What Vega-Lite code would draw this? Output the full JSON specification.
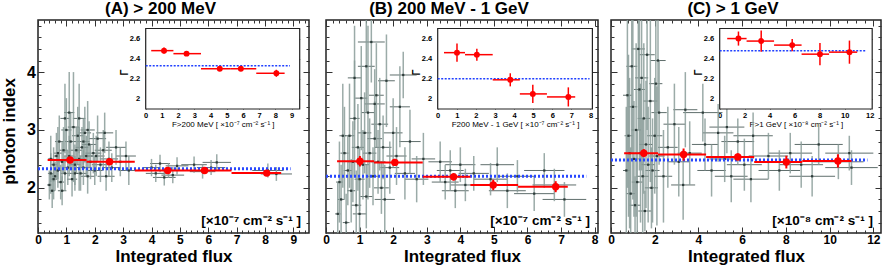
{
"$schema":"https://vega.github.io/schema/vega-lite/v6.json",
"autosize":{"type":"none"},
"padding":{"left":38,"top":20,"right":845,"bottom":251},
"config":{
 "view":{"stroke":"#222","strokeWidth":1.5},
 "font":"Liberation Sans",
 "axis":{"grid":false,"domain":false,"labelFont":"Liberation Sans","titleFont":"Liberation Sans","labelFontWeight":"bold","titleFontWeight":"bold","labelColor":"#000","titleColor":"#000","tickColor":"#333","tickWidth":1,"zindex":1,"labelOverlap":false,"labelFlush":false},
 "title":{"font":"Liberation Sans","fontSize":17,"fontWeight":"bold","color":"#000","anchor":"middle","dx":-13,"offset":2,"baseline":"alphabetic"}
},
"datasets":{
 "gA":[
  {"x":0.40,"xe":0.08,"y":2.05,"ye":0.25},{"x":0.45,"xe":0.10,"y":2.25,"ye":0.35},{"x":0.50,"xe":0.10,"y":1.95,"ye":0.30},{"x":0.55,"xe":0.12,"y":2.40,"ye":0.30},{"x":0.60,"xe":0.10,"y":2.20,"ye":0.25},{"x":0.65,"xe":0.12,"y":2.55,"ye":0.40},{"x":0.70,"xe":0.12,"y":2.30,"ye":0.30},{"x":0.75,"xe":0.15,"y":2.80,"ye":0.45},{"x":0.80,"xe":0.12,"y":2.10,"ye":0.30},{"x":0.85,"xe":0.15,"y":2.45,"ye":0.35},{"x":0.90,"xe":0.15,"y":2.65,"ye":0.40},{"x":0.95,"xe":0.15,"y":2.25,"ye":0.30},{"x":1.00,"xe":0.18,"y":3.00,"ye":0.55},{"x":1.05,"xe":0.15,"y":2.35,"ye":0.30},{"x":1.10,"xe":0.18,"y":2.55,"ye":0.35},{"x":1.15,"xe":0.20,"y":2.80,"ye":0.50},{"x":1.20,"xe":0.18,"y":2.15,"ye":0.30},{"x":1.25,"xe":0.20,"y":3.05,"ye":0.95},{"x":1.30,"xe":0.20,"y":2.40,"ye":0.35},{"x":1.35,"xe":0.20,"y":2.65,"ye":0.40},{"x":1.40,"xe":0.20,"y":2.90,"ye":0.50},{"x":1.45,"xe":0.22,"y":2.50,"ye":0.55},{"x":1.50,"xe":0.22,"y":2.25,"ye":0.30},{"x":1.55,"xe":0.22,"y":2.70,"ye":0.35},{"x":1.60,"xe":0.25,"y":2.35,"ye":0.30},{"x":1.65,"xe":0.22,"y":2.95,"ye":0.45},{"x":1.70,"xe":0.25,"y":2.55,"ye":0.35},{"x":1.75,"xe":0.25,"y":2.20,"ye":0.30},{"x":1.80,"xe":0.25,"y":2.75,"ye":0.40},{"x":1.85,"xe":0.25,"y":2.45,"ye":0.30},{"x":1.95,"xe":0.28,"y":2.60,"ye":0.35},{"x":2.00,"xe":0.28,"y":2.30,"ye":0.25},{"x":2.10,"xe":0.30,"y":2.85,"ye":0.40},{"x":2.20,"xe":0.30,"y":2.40,"ye":0.30},{"x":2.30,"xe":0.30,"y":2.65,"ye":0.35},{"x":2.40,"xe":0.30,"y":2.20,"ye":0.25},{"x":2.50,"xe":0.32,"y":2.50,"ye":0.30},{"x":2.60,"xe":0.32,"y":2.35,"ye":0.25},{"x":2.75,"xe":0.35,"y":2.70,"ye":0.30},{"x":2.90,"xe":0.35,"y":2.45,"ye":0.25},{"x":3.10,"xe":0.35,"y":2.55,"ye":0.25},{"x":3.20,"xe":0.35,"y":2.30,"ye":0.25},{"x":4.00,"xe":0.30,"y":2.35,"ye":0.15},{"x":4.15,"xe":0.35,"y":2.25,"ye":0.15},{"x":4.30,"xe":0.35,"y":2.42,"ye":0.15},{"x":4.45,"xe":0.40,"y":2.18,"ye":0.14},{"x":4.60,"xe":0.40,"y":2.30,"ye":0.13},{"x":4.75,"xe":0.40,"y":2.22,"ye":0.14},{"x":4.90,"xe":0.40,"y":2.38,"ye":0.15},{"x":5.50,"xe":0.45,"y":2.40,"ye":0.14},{"x":5.80,"xe":0.45,"y":2.28,"ye":0.12},{"x":6.10,"xe":0.50,"y":2.35,"ye":0.13},{"x":6.30,"xe":0.50,"y":2.44,"ye":0.14},{"x":8.10,"xe":0.55,"y":2.30,"ye":0.12},{"x":8.40,"xe":0.55,"y":2.24,"ye":0.12},
  {"x":0.55,"xe":0.12,"y":2.15,"ye":0.35},{"x":0.70,"xe":0.14,"y":2.60,"ye":0.45},{"x":0.95,"xe":0.16,"y":3.20,"ye":0.60},{"x":1.10,"xe":0.18,"y":3.30,"ye":0.70},{"x":1.30,"xe":0.20,"y":2.25,"ye":0.30},{"x":1.45,"xe":0.22,"y":3.20,"ye":0.60},{"x":1.60,"xe":0.22,"y":2.80,"ye":0.40},{"x":1.75,"xe":0.25,"y":3.00,"ye":0.50},{"x":2.05,"xe":0.30,"y":2.55,"ye":0.35},{"x":2.35,"xe":0.30,"y":2.95,"ye":0.35},{"x":0.45,"xe":0.10,"y":2.50,"ye":0.40},{"x":0.85,"xe":0.15,"y":1.95,"ye":0.25}
 ],
 "gB":[
  {"x":0.35,"xe":0.08,"y":1.55,"ye":0.55},{"x":0.40,"xe":0.10,"y":2.10,"ye":0.70},{"x":0.45,"xe":0.10,"y":1.80,"ye":0.60},{"x":0.55,"xe":0.12,"y":2.60,"ye":0.80},{"x":0.60,"xe":0.10,"y":1.40,"ye":0.50},{"x":0.65,"xe":0.12,"y":2.30,"ye":0.60},{"x":0.70,"xe":0.15,"y":2.90,"ye":0.90},{"x":0.75,"xe":0.12,"y":1.95,"ye":0.55},{"x":0.80,"xe":0.15,"y":2.45,"ye":0.70},{"x":0.85,"xe":0.15,"y":3.20,"ye":1.00},{"x":0.90,"xe":0.15,"y":1.70,"ye":0.60},{"x":0.95,"xe":0.18,"y":2.70,"ye":0.75},{"x":1.00,"xe":0.15,"y":2.15,"ye":0.55},{"x":1.05,"xe":0.18,"y":3.55,"ye":0.90},{"x":1.10,"xe":0.18,"y":2.40,"ye":0.60},{"x":1.15,"xe":0.20,"y":2.95,"ye":0.70},{"x":1.20,"xe":0.18,"y":1.85,"ye":0.55},{"x":1.25,"xe":0.20,"y":3.30,"ye":1.50},{"x":1.30,"xe":0.20,"y":2.60,"ye":0.60},{"x":1.35,"xe":0.40,"y":4.52,"ye":0.70},{"x":1.40,"xe":0.20,"y":2.20,"ye":0.50},{"x":1.45,"xe":0.22,"y":2.85,"ye":0.65},{"x":1.50,"xe":0.22,"y":3.60,"ye":0.90},{"x":1.55,"xe":0.22,"y":2.45,"ye":0.55},{"x":1.60,"xe":0.25,"y":3.10,"ye":0.80},{"x":1.65,"xe":0.22,"y":2.00,"ye":0.45},{"x":1.70,"xe":0.25,"y":2.70,"ye":0.55},{"x":1.80,"xe":0.25,"y":3.85,"ye":0.80},{"x":1.90,"xe":0.28,"y":2.35,"ye":0.45},{"x":2.00,"xe":0.28,"y":2.95,"ye":0.60},{"x":2.10,"xe":0.30,"y":2.55,"ye":0.50},{"x":2.20,"xe":0.30,"y":3.40,"ye":0.70},{"x":2.35,"xe":0.30,"y":2.25,"ye":0.45},{"x":2.50,"xe":0.32,"y":2.80,"ye":0.55},{"x":2.70,"xe":0.35,"y":2.15,"ye":0.40},{"x":2.90,"xe":0.35,"y":2.50,"ye":0.45},{"x":3.40,"xe":0.35,"y":2.45,"ye":0.35},{"x":3.55,"xe":0.40,"y":2.10,"ye":0.30},{"x":3.70,"xe":0.40,"y":2.30,"ye":0.35},{"x":3.85,"xe":0.40,"y":1.95,"ye":0.30},{"x":4.00,"xe":0.45,"y":2.40,"ye":0.30},{"x":4.15,"xe":0.45,"y":2.05,"ye":0.28},{"x":4.40,"xe":0.45,"y":2.25,"ye":0.30},{"x":4.90,"xe":0.50,"y":2.15,"ye":0.28},{"x":5.10,"xe":0.50,"y":2.40,"ye":0.30},{"x":5.40,"xe":0.55,"y":1.95,"ye":0.30},{"x":5.70,"xe":0.55,"y":2.20,"ye":0.28},{"x":6.20,"xe":0.60,"y":1.90,"ye":0.30},{"x":6.50,"xe":0.60,"y":2.30,"ye":0.30},{"x":6.80,"xe":0.65,"y":2.05,"ye":0.28},{"x":7.10,"xe":0.65,"y":1.80,"ye":0.30},
  {"x":0.85,"xe":0.20,"y":3.90,"ye":0.90},{"x":1.20,"xe":0.25,"y":4.10,"ye":0.80},{"x":1.45,"xe":0.30,"y":3.45,"ye":0.60},{"x":2.30,"xe":0.40,"y":3.95,"ye":0.40},{"x":1.00,"xe":0.20,"y":1.55,"ye":0.60},{"x":0.50,"xe":0.10,"y":2.90,"ye":0.90},{"x":1.75,"xe":0.30,"y":1.80,"ye":0.60}
 ],
 "gC":[
  {"x":0.70,"xe":0.15,"y":2.30,"ye":1.10},{"x":0.80,"xe":0.18,"y":2.90,"ye":1.40},{"x":0.90,"xe":0.20,"y":1.90,"ye":0.80},{"x":1.00,"xe":0.20,"y":3.40,"ye":1.60},{"x":1.05,"xe":0.22,"y":2.50,"ye":1.00},{"x":1.15,"xe":0.22,"y":3.00,"ye":1.50},{"x":1.20,"xe":0.25,"y":2.10,"ye":0.90},{"x":1.30,"xe":0.25,"y":3.70,"ye":1.40},{"x":1.35,"xe":0.25,"y":2.60,"ye":1.20},{"x":1.45,"xe":0.28,"y":2.20,"ye":1.00},{"x":1.50,"xe":0.28,"y":3.20,"ye":1.30},{"x":1.60,"xe":0.30,"y":2.75,"ye":1.10},{"x":1.70,"xe":0.30,"y":2.40,"ye":1.00},{"x":1.80,"xe":0.32,"y":3.50,"ye":1.40},{"x":1.90,"xe":0.32,"y":2.30,"ye":0.90},{"x":2.00,"xe":0.35,"y":2.90,"ye":1.00},{"x":2.10,"xe":0.35,"y":2.55,"ye":1.20},{"x":2.20,"xe":0.35,"y":3.30,"ye":0.90},{"x":2.40,"xe":0.40,"y":2.20,"ye":0.80},{"x":2.60,"xe":0.45,"y":2.70,"ye":0.70},{"x":2.90,"xe":0.50,"y":3.10,"ye":0.70},{"x":3.10,"xe":0.50,"y":2.45,"ye":0.60},{"x":3.30,"xe":0.55,"y":2.05,"ye":0.60},{"x":3.40,"xe":0.55,"y":3.35,"ye":0.65},{"x":3.60,"xe":0.55,"y":2.60,"ye":0.55},{"x":4.30,"xe":0.60,"y":2.75,"ye":0.45},{"x":4.60,"xe":0.65,"y":2.30,"ye":0.45},{"x":4.90,"xe":0.70,"y":2.95,"ye":0.50},{"x":5.20,"xe":0.70,"y":2.50,"ye":0.40},{"x":5.50,"xe":0.75,"y":2.20,"ye":0.45},{"x":5.80,"xe":0.75,"y":2.80,"ye":0.40},{"x":6.10,"xe":0.80,"y":2.40,"ye":0.45},{"x":6.40,"xe":0.80,"y":2.15,"ye":0.40},{"x":7.20,"xe":0.90,"y":2.55,"ye":0.40},{"x":7.70,"xe":0.95,"y":2.30,"ye":0.35},{"x":8.20,"xe":1.00,"y":2.60,"ye":0.35},{"x":8.70,"xe":1.00,"y":2.40,"ye":0.40},{"x":9.20,"xe":1.05,"y":2.20,"ye":0.35},{"x":10.40,"xe":1.15,"y":2.45,"ye":0.30},{"x":11.00,"xe":1.20,"y":2.35,"ye":0.30},
  {"x":0.75,"xe":0.20,"y":3.60,"ye":1.60},{"x":0.95,"xe":0.25,"y":4.10,"ye":1.50},{"x":1.25,"xe":0.30,"y":4.40,"ye":1.40},{"x":1.40,"xe":0.30,"y":3.90,"ye":1.60},{"x":1.65,"xe":0.35,"y":4.30,"ye":1.30},{"x":1.85,"xe":0.30,"y":2.00,"ye":0.70},{"x":2.05,"xe":0.30,"y":3.80,"ye":1.20},{"x":0.85,"xe":0.20,"y":2.60,"ye":1.30},{"x":1.10,"xe":0.25,"y":1.70,"ye":0.50},{"x":1.55,"xe":0.30,"y":1.60,"ye":0.35},{"x":2.15,"xe":0.35,"y":4.20,"ye":0.90},{"x":4.20,"xe":0.90,"y":3.30,"ye":0.50},{"x":5.30,"xe":0.80,"y":3.05,"ye":0.45},{"x":6.50,"xe":0.90,"y":2.90,"ye":0.40},{"x":9.50,"xe":1.10,"y":2.75,"ye":0.35},{"x":10.90,"xe":1.10,"y":2.60,"ye":0.30}
 ],
 "rA":[
  {"x":1.13,"xlo":0.34,"xhi":1.71,"y":2.48,"ylo":2.45,"yhi":2.51},{"x":2.52,"xlo":1.71,"xhi":3.41,"y":2.45,"ylo":2.43,"yhi":2.47},{"x":4.57,"xlo":3.41,"xhi":5.25,"y":2.30,"ylo":2.28,"yhi":2.32},{"x":5.87,"xlo":5.25,"xhi":6.82,"y":2.30,"ylo":2.28,"yhi":2.32},{"x":8.06,"xlo":6.82,"xhi":8.57,"y":2.255,"ylo":2.22,"yhi":2.29}
 ],
 "rB":[
  {"x":1.01,"xlo":0.33,"xhi":1.43,"y":2.46,"ylo":2.37,"yhi":2.55},{"x":2.05,"xlo":1.43,"xhi":2.88,"y":2.44,"ylo":2.38,"yhi":2.50},{"x":3.8,"xlo":2.88,"xhi":4.3,"y":2.19,"ylo":2.125,"yhi":2.255},{"x":4.98,"xlo":4.3,"xhi":5.72,"y":2.05,"ylo":1.96,"yhi":2.14},{"x":6.84,"xlo":5.72,"xhi":7.2,"y":2.02,"ylo":1.925,"yhi":2.115}
 ],
 "rC":[
  {"x":1.5,"xlo":0.6,"xhi":2.15,"y":2.60,"ylo":2.53,"yhi":2.67},{"x":3.32,"xlo":2.15,"xhi":4.35,"y":2.575,"ylo":2.47,"yhi":2.68},{"x":5.8,"xlo":4.35,"xhi":6.55,"y":2.535,"ylo":2.475,"yhi":2.595},{"x":8.02,"xlo":6.55,"xhi":8.75,"y":2.445,"ylo":2.335,"yhi":2.555},{"x":10.38,"xlo":8.75,"xhi":11.0,"y":2.465,"ylo":2.35,"yhi":2.58}
 ]
},
"bounds":"flush",
"spacing":17,
"hconcat":[
{
 "width":271,"height":213,
 "title":{"text":"(A) > 200 MeV"},
 "resolve":{"scale":{"x":"independent","y":"independent"}},
 "layer":[
  {
   "resolve":{"axis":{"x":"independent","y":"independent"}},
   "layer":[
    {"data":{"name":"gA"},"mark":{"type":"errorbar","color":"#435552","thickness":1,"opacity":0.85,"clip":true},
     "encoding":{"x":{"field":"x","type":"quantitative","scale":{"domain":[0,9.55],"nice":false,"zero":false},"axis":{"orient":"bottom","values":[0,1,2,3,4,5,6,7,8,9],"ticks":false,"labelFontSize":12,"labelPadding":1.5,"title":"Integrated flux","titleFontSize":17,"titleY":28,"titleBaseline":"alphabetic"}},
      "xError":{"field":"xe"},
      "y":{"field":"y","type":"quantitative","scale":{"domain":[1.22,4.9],"nice":false,"zero":false},"axis":{"orient":"left","values":[2,3,4],"ticks":false,"labelFontSize":16,"labelPadding":2.5,"title":"photon index","titleFontSize":17,"titleX":-23.5,"titleY":111,"titleBaseline":"alphabetic"}}}},
    {"data":{"name":"gA"},"mark":{"type":"errorbar","color":"#8a9c99","thickness":1.5,"opacity":0.85,"clip":true},
     "encoding":{"x":{"field":"x","type":"quantitative","scale":{"domain":[0,9.55],"nice":false,"zero":false},"axis":{"orient":"bottom","values":[0,1,2,3,4,5,6,7,8,9],"labels":false,"tickSize":-6,"title":null}},
      "y":{"field":"y","type":"quantitative","scale":{"domain":[1.22,4.9],"nice":false,"zero":false},"axis":{"orient":"left","values":[2,3,4],"labels":false,"tickSize":-6,"title":null}},
      "yError":{"field":"ye"}}},
    {"data":{"name":"gA"},"mark":{"type":"square","size":5,"color":"#2d3b39","opacity":1,"clip":true},
     "encoding":{"x":{"field":"x","type":"quantitative","scale":{"domain":[0,9.55],"nice":false,"zero":false},"axis":{"orient":"bottom","tickCount":48,"labels":false,"tickSize":-3,"title":null}},
      "y":{"field":"y","type":"quantitative","scale":{"domain":[1.22,4.9],"nice":false,"zero":false},"axis":{"orient":"left","tickCount":18,"labels":false,"tickSize":-3,"title":null}}}},
    {"data":{"values":[{"x":0,"x2":8.9,"y":2.33}]},"mark":{"type":"rule","color":"#2848ff","strokeWidth":3,"strokeDash":[2,2],"clip":true},
     "encoding":{"x":{"field":"x","type":"quantitative","scale":{"domain":[0,9.55],"nice":false,"zero":false},"axis":{"orient":"top","values":[0,1,2,3,4,5,6,7,8,9],"labels":false,"tickSize":-6,"title":null}},"x2":{"field":"x2"},
      "y":{"field":"y","type":"quantitative","scale":{"domain":[1.22,4.9],"nice":false,"zero":false},"axis":{"orient":"right","values":[2,3,4],"labels":false,"tickSize":-6,"title":null}}}},
    {"data":{"name":"rA"},"mark":{"type":"rule","color":"#ff0000","strokeWidth":2,"clip":true},
     "encoding":{"x":{"field":"xlo","type":"quantitative","scale":{"domain":[0,9.55],"nice":false,"zero":false},"axis":{"orient":"top","tickCount":48,"labels":false,"tickSize":-3,"title":null}},"x2":{"field":"xhi"},
      "y":{"field":"y","type":"quantitative","scale":{"domain":[1.22,4.9],"nice":false,"zero":false},"axis":{"orient":"right","tickCount":18,"labels":false,"tickSize":-3,"title":null}}}},
    {"data":{"name":"rA"},"mark":{"type":"rule","color":"#ff0000","strokeWidth":2,"clip":true},
     "encoding":{"x":{"field":"x","type":"quantitative","scale":{"domain":[0,9.55],"nice":false,"zero":false},"axis":null},
      "y":{"field":"ylo","type":"quantitative","scale":{"domain":[1.22,4.9],"nice":false,"zero":false},"axis":null},"y2":{"field":"yhi"}}},
    {"data":{"name":"rA"},"mark":{"type":"circle","size":55,"color":"#ff0000","opacity":1},
     "encoding":{"x":{"field":"x","type":"quantitative","scale":{"domain":[0,9.55],"nice":false,"zero":false},"axis":null},
      "y":{"field":"y","type":"quantitative","scale":{"domain":[1.22,4.9],"nice":false,"zero":false},"axis":null}}},
    {"data":{"values":[{"t":"[×10⁻⁷ cm⁻² s⁻¹ ]"}]},"mark":{"type":"text","align":"right","baseline":"alphabetic","fontSize":13.5,"fontWeight":"bold","font":"Liberation Sans","color":"#000"},
     "encoding":{"text":{"field":"t"},"x":{"datum":9.27,"type":"quantitative","scale":{"domain":[0,9.55],"nice":false,"zero":false},"axis":null},
      "y":{"datum":1.36,"type":"quantitative","scale":{"domain":[1.22,4.9],"nice":false,"zero":false},"axis":null}}}
   ]
  },
  {
   "resolve":{"axis":{"x":"independent","y":"independent"}},
   "layer":[
    {"data":{"values":[{}]},"mark":{"type":"rect","fill":"#ffffff","stroke":"#222","strokeWidth":1.2},
     "encoding":{"x":{"datum":0,"type":"quantitative","scale":{"domain":[0,9.5],"range":[107.7,261.7],"nice":false,"zero":false},"axis":null},"x2":{"datum":9.5},
      "y":{"datum":1.9,"type":"quantitative","scale":{"domain":[1.9,2.7],"range":[89,8.5],"nice":false,"zero":false},"axis":null},"y2":{"datum":2.7}}},
    {"data":{"values":[{"x":0,"x2":8.9,"y":2.33}]},"mark":{"type":"rule","color":"#2040ff","strokeWidth":1.5,"strokeDash":[2,1.5]},
     "encoding":{"x":{"field":"x","type":"quantitative","scale":{"domain":[0,9.5],"range":[107.7,261.7],"nice":false,"zero":false},"axis":{"orient":"bottom","offset":-124,"values":[0,1,2,3,4,5,6,7,8,9],"ticks":false,"labelFontSize":7.5,"labelPadding":2,"title":"F>200 MeV [ ×10⁻⁷ cm⁻² s⁻¹ ]","titleFontSize":8,"titleFontWeight":"normal","titleY":17,"titleBaseline":"alphabetic"}},"x2":{"field":"x2"},
      "y":{"field":"y","type":"quantitative","scale":{"domain":[1.9,2.7],"range":[89,8.5],"nice":false,"zero":false},"axis":{"orient":"left","offset":-107.7,"values":[2,2.2,2.4,2.6],"format":"~g","ticks":false,"labelFontSize":7.5,"labelPadding":6,"title":"Γ","titleFontSize":10,"titleX":-21.7,"titleY":52,"titleBaseline":"middle"}}}},
    {"data":{"name":"rA"},"mark":{"type":"rule","color":"#ff0000","strokeWidth":1.5},
     "encoding":{"x":{"field":"xlo","type":"quantitative","scale":{"domain":[0,9.5],"range":[107.7,261.7],"nice":false,"zero":false},"axis":{"orient":"bottom","offset":-124,"values":[0,1,2,3,4,5,6,7,8,9],"labels":false,"tickSize":-3,"title":null}},"x2":{"field":"xhi"},
      "y":{"field":"y","type":"quantitative","scale":{"domain":[1.9,2.7],"range":[89,8.5],"nice":false,"zero":false},"axis":{"orient":"left","offset":-107.7,"values":[2,2.2,2.4,2.6],"labels":false,"tickSize":-3,"title":null}}}},
    {"data":{"name":"rA"},"mark":{"type":"rule","color":"#ff0000","strokeWidth":1.5},
     "encoding":{"x":{"field":"x","type":"quantitative","scale":{"domain":[0,9.5],"range":[107.7,261.7],"nice":false,"zero":false},"axis":{"orient":"top","offset":-8.5,"values":[0,1,2,3,4,5,6,7,8,9],"labels":false,"tickSize":-3,"title":null}},
      "y":{"field":"ylo","type":"quantitative","scale":{"domain":[1.9,2.7],"range":[89,8.5],"nice":false,"zero":false},"axis":{"orient":"right","offset":-9.3,"values":[2,2.2,2.4,2.6],"labels":false,"tickSize":-3,"title":null}},"y2":{"field":"yhi"}}},
    {"data":{"name":"rA"},"mark":{"type":"circle","size":35,"color":"#ff0000","opacity":1},
     "encoding":{"x":{"field":"x","type":"quantitative","scale":{"domain":[0,9.5],"range":[107.7,261.7],"nice":false,"zero":false},"axis":null},
      "y":{"field":"y","type":"quantitative","scale":{"domain":[1.9,2.7],"range":[89,8.5],"nice":false,"zero":false},"axis":null}}}
   ]
  }
 ]
},
{
 "bounds":"flush",
 "spacing":13,
 "hconcat":[
 {
  "width":272,"height":213,
  "title":{"text":"(B) 200 MeV - 1 GeV"},
  "resolve":{"scale":{"x":"independent","y":"independent"}},
  "layer":[
   {
    "resolve":{"axis":{"x":"independent","y":"independent"}},
    "layer":[
     {"data":{"name":"gB"},"mark":{"type":"errorbar","color":"#435552","thickness":1,"opacity":0.85,"clip":true},
      "encoding":{"x":{"field":"x","type":"quantitative","scale":{"domain":[0,8.1],"nice":false,"zero":false},"axis":{"orient":"bottom","values":[0,1,2,3,4,5,6,7,8],"ticks":false,"labelFontSize":12,"labelPadding":1.5,"title":"Integrated flux","titleFontSize":17,"titleY":28,"titleBaseline":"alphabetic"}},
       "xError":{"field":"xe"},
       "y":{"field":"y","type":"quantitative","scale":{"domain":[1.22,4.9],"nice":false,"zero":false},"axis":null}}},
     {"data":{"name":"gB"},"mark":{"type":"errorbar","color":"#8a9c99","thickness":1.5,"opacity":0.85,"clip":true},
      "encoding":{"x":{"field":"x","type":"quantitative","scale":{"domain":[0,8.1],"nice":false,"zero":false},"axis":{"orient":"bottom","values":[0,1,2,3,4,5,6,7,8],"labels":false,"tickSize":-6,"title":null}},
       "y":{"field":"y","type":"quantitative","scale":{"domain":[1.22,4.9],"nice":false,"zero":false},"axis":{"orient":"left","values":[2,3,4],"labels":false,"tickSize":-6,"title":null}},
       "yError":{"field":"ye"}}},
     {"data":{"name":"gB"},"mark":{"type":"square","size":5,"color":"#2d3b39","opacity":1,"clip":true},
      "encoding":{"x":{"field":"x","type":"quantitative","scale":{"domain":[0,8.1],"nice":false,"zero":false},"axis":{"orient":"bottom","tickCount":40,"labels":false,"tickSize":-3,"title":null}},
       "y":{"field":"y","type":"quantitative","scale":{"domain":[1.22,4.9],"nice":false,"zero":false},"axis":{"orient":"left","tickCount":18,"labels":false,"tickSize":-3,"title":null}}}},
     {"data":{"values":[{"x":0,"x2":7.75,"y":2.2}]},"mark":{"type":"rule","color":"#2848ff","strokeWidth":3,"strokeDash":[2,2],"clip":true},
      "encoding":{"x":{"field":"x","type":"quantitative","scale":{"domain":[0,8.1],"nice":false,"zero":false},"axis":{"orient":"top","values":[0,1,2,3,4,5,6,7,8],"labels":false,"tickSize":-6,"title":null}},"x2":{"field":"x2"},
       "y":{"field":"y","type":"quantitative","scale":{"domain":[1.22,4.9],"nice":false,"zero":false},"axis":{"orient":"right","values":[2,3,4],"labels":false,"tickSize":-6,"title":null}}}},
     {"data":{"name":"rB"},"mark":{"type":"rule","color":"#ff0000","strokeWidth":2,"clip":true},
      "encoding":{"x":{"field":"xlo","type":"quantitative","scale":{"domain":[0,8.1],"nice":false,"zero":false},"axis":{"orient":"top","tickCount":40,"labels":false,"tickSize":-3,"title":null}},"x2":{"field":"xhi"},
       "y":{"field":"y","type":"quantitative","scale":{"domain":[1.22,4.9],"nice":false,"zero":false},"axis":{"orient":"right","tickCount":18,"labels":false,"tickSize":-3,"title":null}}}},
     {"data":{"name":"rB"},"mark":{"type":"rule","color":"#ff0000","strokeWidth":2,"clip":true},
      "encoding":{"x":{"field":"x","type":"quantitative","scale":{"domain":[0,8.1],"nice":false,"zero":false},"axis":null},
       "y":{"field":"ylo","type":"quantitative","scale":{"domain":[1.22,4.9],"nice":false,"zero":false},"axis":null},"y2":{"field":"yhi"}}},
     {"data":{"name":"rB"},"mark":{"type":"circle","size":55,"color":"#ff0000","opacity":1},
      "encoding":{"x":{"field":"x","type":"quantitative","scale":{"domain":[0,8.1],"nice":false,"zero":false},"axis":null},
       "y":{"field":"y","type":"quantitative","scale":{"domain":[1.22,4.9],"nice":false,"zero":false},"axis":null}}},
     {"data":{"values":[{"t":"[×10⁻⁷ cm⁻² s⁻¹ ]"}]},"mark":{"type":"text","align":"right","baseline":"alphabetic","fontSize":13.5,"fontWeight":"bold","font":"Liberation Sans","color":"#000"},
      "encoding":{"text":{"field":"t"},"x":{"datum":7.86,"type":"quantitative","scale":{"domain":[0,8.1],"nice":false,"zero":false},"axis":null},
       "y":{"datum":1.36,"type":"quantitative","scale":{"domain":[1.22,4.9],"nice":false,"zero":false},"axis":null}}}
    ]
   },
   {
    "resolve":{"axis":{"x":"independent","y":"independent"}},
    "layer":[
     {"data":{"values":[{}]},"mark":{"type":"rect","fill":"#ffffff","stroke":"#222","strokeWidth":1.2},
      "encoding":{"x":{"datum":0,"type":"quantitative","scale":{"domain":[0,8.1],"range":[111.7,266.4],"nice":false,"zero":false},"axis":null},"x2":{"datum":8.1},
       "y":{"datum":1.9,"type":"quantitative","scale":{"domain":[1.9,2.7],"range":[89,8.5],"nice":false,"zero":false},"axis":null},"y2":{"datum":2.7}}},
     {"data":{"values":[{"x":0,"x2":7.95,"y":2.2}]},"mark":{"type":"rule","color":"#2040ff","strokeWidth":1.5,"strokeDash":[2,1.5]},
      "encoding":{"x":{"field":"x","type":"quantitative","scale":{"domain":[0,8.1],"range":[111.7,266.4],"nice":false,"zero":false},"axis":{"orient":"bottom","offset":-124,"values":[0,1,2,3,4,5,6,7,8],"ticks":false,"labelFontSize":7.5,"labelPadding":2,"title":"F200 MeV - 1 GeV [ ×10⁻⁷ cm⁻² s⁻¹ ]","titleFontSize":8,"titleFontWeight":"normal","titleY":17,"titleBaseline":"alphabetic"}},"x2":{"field":"x2"},
       "y":{"field":"y","type":"quantitative","scale":{"domain":[1.9,2.7],"range":[89,8.5],"nice":false,"zero":false},"axis":{"orient":"left","offset":-111.7,"values":[2,2.2,2.4,2.6],"format":"~g","ticks":false,"labelFontSize":7.5,"labelPadding":6,"title":"Γ","titleFontSize":10,"titleX":-21.7,"titleY":52,"titleBaseline":"middle"}}}},
     {"data":{"name":"rB"},"mark":{"type":"rule","color":"#ff0000","strokeWidth":1.5},
      "encoding":{"x":{"field":"xlo","type":"quantitative","scale":{"domain":[0,8.1],"range":[111.7,266.4],"nice":false,"zero":false},"axis":{"orient":"bottom","offset":-124,"values":[0,1,2,3,4,5,6,7,8],"labels":false,"tickSize":-3,"title":null}},"x2":{"field":"xhi"},
       "y":{"field":"y","type":"quantitative","scale":{"domain":[1.9,2.7],"range":[89,8.5],"nice":false,"zero":false},"axis":{"orient":"left","offset":-111.7,"values":[2,2.2,2.4,2.6],"labels":false,"tickSize":-3,"title":null}}}},
     {"data":{"name":"rB"},"mark":{"type":"rule","color":"#ff0000","strokeWidth":1.5},
      "encoding":{"x":{"field":"x","type":"quantitative","scale":{"domain":[0,8.1],"range":[111.7,266.4],"nice":false,"zero":false},"axis":{"orient":"top","offset":-8.5,"values":[0,1,2,3,4,5,6,7,8],"labels":false,"tickSize":-3,"title":null}},
       "y":{"field":"ylo","type":"quantitative","scale":{"domain":[1.9,2.7],"range":[89,8.5],"nice":false,"zero":false},"axis":{"orient":"right","offset":-5.6,"values":[2,2.2,2.4,2.6],"labels":false,"tickSize":-3,"title":null}},"y2":{"field":"yhi"}}},
     {"data":{"name":"rB"},"mark":{"type":"circle","size":35,"color":"#ff0000","opacity":1},
      "encoding":{"x":{"field":"x","type":"quantitative","scale":{"domain":[0,8.1],"range":[111.7,266.4],"nice":false,"zero":false},"axis":null},
       "y":{"field":"y","type":"quantitative","scale":{"domain":[1.9,2.7],"range":[89,8.5],"nice":false,"zero":false},"axis":null}}}
    ]
   }
  ]
 },
 {
  "width":270,"height":213,
  "title":{"text":"(C) > 1 GeV"},
  "resolve":{"scale":{"x":"independent","y":"independent"}},
  "layer":[
   {
    "resolve":{"axis":{"x":"independent","y":"independent"}},
    "layer":[
     {"data":{"name":"gC"},"mark":{"type":"errorbar","color":"#435552","thickness":1,"opacity":0.85,"clip":true},
      "encoding":{"x":{"field":"x","type":"quantitative","scale":{"domain":[0,12.35],"nice":false,"zero":false},"axis":{"orient":"bottom","values":[0,2,4,6,8,10,12],"ticks":false,"labelFontSize":12,"labelPadding":1.5,"title":"Integrated flux","titleFontSize":17,"titleY":28,"titleBaseline":"alphabetic"}},
       "xError":{"field":"xe"},
       "y":{"field":"y","type":"quantitative","scale":{"domain":[1.22,4.9],"nice":false,"zero":false},"axis":null}}},
     {"data":{"name":"gC"},"mark":{"type":"errorbar","color":"#8a9c99","thickness":1.5,"opacity":0.85,"clip":true},
      "encoding":{"x":{"field":"x","type":"quantitative","scale":{"domain":[0,12.35],"nice":false,"zero":false},"axis":{"orient":"bottom","values":[0,2,4,6,8,10,12],"labels":false,"tickSize":-6,"title":null}},
       "y":{"field":"y","type":"quantitative","scale":{"domain":[1.22,4.9],"nice":false,"zero":false},"axis":{"orient":"left","values":[2,3,4],"labels":false,"tickSize":-6,"title":null}},
       "yError":{"field":"ye"}}},
     {"data":{"name":"gC"},"mark":{"type":"square","size":5,"color":"#2d3b39","opacity":1,"clip":true},
      "encoding":{"x":{"field":"x","type":"quantitative","scale":{"domain":[0,12.35],"nice":false,"zero":false},"axis":{"orient":"bottom","values":[0.4,0.8,1.2,1.6,2,2.4,2.8,3.2,3.6,4,4.4,4.8,5.2,5.6,6,6.4,6.8,7.2,7.6,8,8.4,8.8,9.2,9.6,10,10.4,10.8,11.2,11.6,12],"labels":false,"tickSize":-3,"title":null}},
       "y":{"field":"y","type":"quantitative","scale":{"domain":[1.22,4.9],"nice":false,"zero":false},"axis":{"orient":"left","tickCount":18,"labels":false,"tickSize":-3,"title":null}}}},
     {"data":{"values":[{"x":0,"x2":11.73,"y":2.48}]},"mark":{"type":"rule","color":"#2848ff","strokeWidth":3,"strokeDash":[2,2],"clip":true},
      "encoding":{"x":{"field":"x","type":"quantitative","scale":{"domain":[0,12.35],"nice":false,"zero":false},"axis":{"orient":"top","values":[0,2,4,6,8,10,12],"labels":false,"tickSize":-6,"title":null}},"x2":{"field":"x2"},
       "y":{"field":"y","type":"quantitative","scale":{"domain":[1.22,4.9],"nice":false,"zero":false},"axis":{"orient":"right","values":[2,3,4],"labels":false,"tickSize":-6,"title":null}}}},
     {"data":{"name":"rC"},"mark":{"type":"rule","color":"#ff0000","strokeWidth":2,"clip":true},
      "encoding":{"x":{"field":"xlo","type":"quantitative","scale":{"domain":[0,12.35],"nice":false,"zero":false},"axis":{"orient":"top","values":[0.4,0.8,1.2,1.6,2,2.4,2.8,3.2,3.6,4,4.4,4.8,5.2,5.6,6,6.4,6.8,7.2,7.6,8,8.4,8.8,9.2,9.6,10,10.4,10.8,11.2,11.6,12],"labels":false,"tickSize":-3,"title":null}},"x2":{"field":"xhi"},
       "y":{"field":"y","type":"quantitative","scale":{"domain":[1.22,4.9],"nice":false,"zero":false},"axis":{"orient":"right","tickCount":18,"labels":false,"tickSize":-3,"title":null}}}},
     {"data":{"name":"rC"},"mark":{"type":"rule","color":"#ff0000","strokeWidth":2,"clip":true},
      "encoding":{"x":{"field":"x","type":"quantitative","scale":{"domain":[0,12.35],"nice":false,"zero":false},"axis":null},
       "y":{"field":"ylo","type":"quantitative","scale":{"domain":[1.22,4.9],"nice":false,"zero":false},"axis":null},"y2":{"field":"yhi"}}},
     {"data":{"name":"rC"},"mark":{"type":"circle","size":55,"color":"#ff0000","opacity":1},
      "encoding":{"x":{"field":"x","type":"quantitative","scale":{"domain":[0,12.35],"nice":false,"zero":false},"axis":null},
       "y":{"field":"y","type":"quantitative","scale":{"domain":[1.22,4.9],"nice":false,"zero":false},"axis":null}}},
     {"data":{"values":[{"t":"[×10⁻⁸ cm⁻² s⁻¹ ]"}]},"mark":{"type":"text","align":"right","baseline":"alphabetic","fontSize":13.5,"fontWeight":"bold","font":"Liberation Sans","color":"#000"},
      "encoding":{"text":{"field":"t"},"x":{"datum":11.98,"type":"quantitative","scale":{"domain":[0,12.35],"nice":false,"zero":false},"axis":null},
       "y":{"datum":1.36,"type":"quantitative","scale":{"domain":[1.22,4.9],"nice":false,"zero":false},"axis":null}}}
    ]
   },
   {
    "resolve":{"axis":{"x":"independent","y":"independent"}},
    "layer":[
     {"data":{"values":[{}]},"mark":{"type":"rect","fill":"#ffffff","stroke":"#222","strokeWidth":1.2},
      "encoding":{"x":{"datum":0,"type":"quantitative","scale":{"domain":[0,12.2],"range":[108.7,261.2],"nice":false,"zero":false},"axis":null},"x2":{"datum":12.2},
       "y":{"datum":1.9,"type":"quantitative","scale":{"domain":[1.9,2.7],"range":[89,8.5],"nice":false,"zero":false},"axis":null},"y2":{"datum":2.7}}},
     {"data":{"values":[{"x":0,"x2":11.7,"y":2.48}]},"mark":{"type":"rule","color":"#2040ff","strokeWidth":1.5,"strokeDash":[2,1.5]},
      "encoding":{"x":{"field":"x","type":"quantitative","scale":{"domain":[0,12.2],"range":[108.7,261.2],"nice":false,"zero":false},"axis":{"orient":"bottom","offset":-124,"values":[0,2,4,6,8,10,12],"ticks":false,"labelFontSize":7.5,"labelPadding":2,"title":"F>1 GeV [ ×10⁻⁸ cm⁻² s⁻¹ ]","titleFontSize":8,"titleFontWeight":"normal","titleY":17,"titleBaseline":"alphabetic"}},"x2":{"field":"x2"},
       "y":{"field":"y","type":"quantitative","scale":{"domain":[1.9,2.7],"range":[89,8.5],"nice":false,"zero":false},"axis":{"orient":"left","offset":-108.7,"values":[2,2.2,2.4,2.6],"format":"~g","ticks":false,"labelFontSize":7.5,"labelPadding":6,"title":"Γ","titleFontSize":10,"titleX":-21.7,"titleY":52,"titleBaseline":"middle"}}}},
     {"data":{"name":"rC"},"mark":{"type":"rule","color":"#ff0000","strokeWidth":1.5},
      "encoding":{"x":{"field":"xlo","type":"quantitative","scale":{"domain":[0,12.2],"range":[108.7,261.2],"nice":false,"zero":false},"axis":{"orient":"bottom","offset":-124,"values":[0,2,4,6,8,10,12],"labels":false,"tickSize":-3,"title":null}},"x2":{"field":"xhi"},
       "y":{"field":"y","type":"quantitative","scale":{"domain":[1.9,2.7],"range":[89,8.5],"nice":false,"zero":false},"axis":{"orient":"left","offset":-108.7,"values":[2,2.2,2.4,2.6],"labels":false,"tickSize":-3,"title":null}}}},
     {"data":{"name":"rC"},"mark":{"type":"rule","color":"#ff0000","strokeWidth":1.5},
      "encoding":{"x":{"field":"x","type":"quantitative","scale":{"domain":[0,12.2],"range":[108.7,261.2],"nice":false,"zero":false},"axis":{"orient":"top","offset":-8.5,"values":[0,2,4,6,8,10,12],"labels":false,"tickSize":-3,"title":null}},
       "y":{"field":"ylo","type":"quantitative","scale":{"domain":[1.9,2.7],"range":[89,8.5],"nice":false,"zero":false},"axis":{"orient":"right","offset":-8.8,"values":[2,2.2,2.4,2.6],"labels":false,"tickSize":-3,"title":null}},"y2":{"field":"yhi"}}},
     {"data":{"name":"rC"},"mark":{"type":"circle","size":35,"color":"#ff0000","opacity":1},
      "encoding":{"x":{"field":"x","type":"quantitative","scale":{"domain":[0,12.2],"range":[108.7,261.2],"nice":false,"zero":false},"axis":null},
       "y":{"field":"y","type":"quantitative","scale":{"domain":[1.9,2.7],"range":[89,8.5],"nice":false,"zero":false},"axis":null}}}
    ]
   }
  ]
 }
 ]
}
]
}
